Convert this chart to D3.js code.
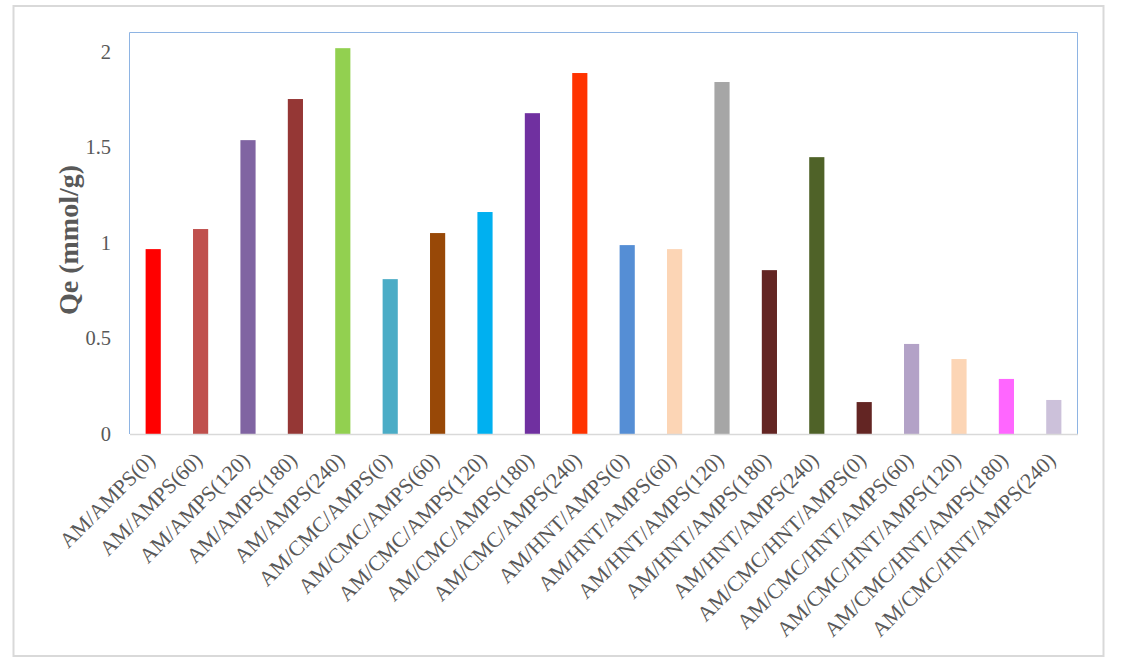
<!DOCTYPE html>
<html>
<head>
<meta charset="utf-8">
<script src="https://cdn.jsdelivr.net/npm/d3@7"></script>
<style>
  html, body { margin: 0; padding: 0; background: #ffffff; }
  svg { display: block; }
</style>
</head>
<body>
<svg id="chart" width="1123" height="660"></svg>
<script>
const categories = [
  "AM/AMPS(0)", "AM/AMPS(60)", "AM/AMPS(120)", "AM/AMPS(180)", "AM/AMPS(240)",
  "AM/CMC/AMPS(0)", "AM/CMC/AMPS(60)", "AM/CMC/AMPS(120)", "AM/CMC/AMPS(180)", "AM/CMC/AMPS(240)",
  "AM/HNT/AMPS(0)", "AM/HNT/AMPS(60)", "AM/HNT/AMPS(120)", "AM/HNT/AMPS(180)", "AM/HNT/AMPS(240)",
  "AM/CMC/HNT/AMPS(0)", "AM/CMC/HNT/AMPS(60)", "AM/CMC/HNT/AMPS(120)", "AM/CMC/HNT/AMPS(180)", "AM/CMC/HNT/AMPS(240)"
];
const qeValues = [
  0.967, 1.072, 1.537, 1.752, 2.018,
  0.810, 1.051, 1.161, 1.678, 1.888,
  0.988, 0.967, 1.841, 0.857, 1.448,
  0.167, 0.471, 0.392, 0.288, 0.178
];
const barColors = [
  "#FF0000", "#C0504D", "#8064A2", "#953735", "#92D050",
  "#4BACC6", "#984807", "#00B0F0", "#7030A0", "#FF3300",
  "#558ED5", "#FCD5B5", "#A6A6A6", "#632523", "#4F6228",
  "#632523", "#B3A2C7", "#FCD5B5", "#FF66FF", "#CCC1DA"
];
const yTicks = [0, 0.5, 1, 1.5, 2];
const yTickLabels = ["0", "0.5", "1", "1.5", "2"];
const yTitle = "Qe (mmol/g)";

const svg = d3.select("#chart");
const plot = { left: 129.5, right: 1077.5, top: 32.5, bottom: 434 };
const textColor = "#595959";
const font = "'Liberation Serif', 'Times New Roman', serif";

// outer border
svg.append("rect")
  .attr("x", 13.5).attr("y", 6).attr("width", 1090).attr("height", 650)
  .attr("fill", "#fff").attr("stroke", "#d9d9d9").attr("stroke-width", 2);

const x = d3.scaleBand().domain(categories).range([plot.left, plot.right]).paddingInner(0.68).paddingOuter(0.34);
const y = d3.scaleLinear().domain([0, 2.1]).range([plot.bottom, plot.top]);

// plot area border (left, top, right)
svg.append("path")
  .attr("d", `M${plot.left},${plot.bottom} V${plot.top} H${plot.right} V${plot.bottom}`)
  .attr("fill", "none").attr("stroke", "#8EB4E3").attr("stroke-width", 1);

// bars
svg.append("g").selectAll("rect").data(categories).join("rect")
  .attr("x", d => x(d))
  .attr("width", x.bandwidth())
  .attr("y", (d, i) => y(qeValues[i]))
  .attr("height", (d, i) => y(0) - y(qeValues[i]))
  .attr("fill", (d, i) => barColors[i]);

// x axis line
const xAxis = d3.axisBottom(x).tickSize(0).tickFormat("");
const gx = svg.append("g").attr("transform", `translate(0,${plot.bottom})`).call(xAxis);
gx.select(".domain").attr("stroke", "#d9d9d9").attr("stroke-width", 1.5);

// x labels
svg.append("g").selectAll("text").data(categories).join("text")
  .attr("transform", d => `translate(${x(d) + x.bandwidth() / 2 + 3},${plot.bottom + 27.5}) rotate(-45)`)
  .attr("text-anchor", "end")
  .attr("font-family", font)
  .attr("font-size", 21.5)
  .attr("fill", textColor)
  .text(d => d);

// y axis
const yAxis = d3.axisLeft(y).tickValues(yTicks).tickSize(0).tickPadding(18.5)
  .tickFormat((d, i) => yTickLabels[i]);
const gy = svg.append("g").attr("transform", `translate(${plot.left},0)`).call(yAxis);
gy.select(".domain").remove();
gy.selectAll("text")
  .attr("font-family", font)
  .attr("font-size", 20.5)
  .attr("fill", textColor);

// y title
svg.append("text")
  .attr("transform", `translate(78,240) rotate(-90)`)
  .attr("text-anchor", "middle")
  .attr("font-family", font)
  .attr("font-size", 28)
  .attr("font-weight", "bold")
  .attr("fill", textColor)
  .text(yTitle);
</script>
</body>
</html>
